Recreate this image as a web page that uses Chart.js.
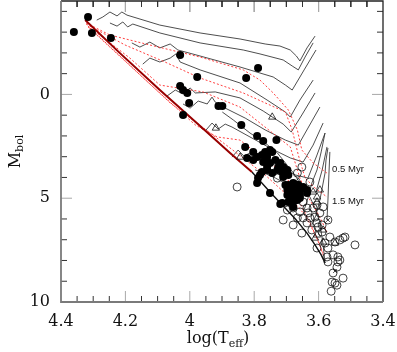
<!DOCTYPE html>
<html>
<head>
<meta charset="utf-8">
<style>
  html, body { margin: 0; padding: 0; background: #fff; overflow: hidden; }
  canvas { display: block; }
</style>
<script src="https://cdn.jsdelivr.net/npm/chart.js@4.4.1/dist/chart.umd.min.js"></script>
</head>
<body>
<canvas id="hrd" width="397" height="352"></canvas>
<script>
// axis limits and ticks
const xMin = 3.4, xMax = 4.4, yMin = -4.5, yMax = 10;
const xTickValues = [4.4, 4.2, 4.0, 3.8, 3.6, 3.4];
const yTickValues = [0, 5, 10];

// pre-main-sequence tracks, [log Teff, Mbol]
const track1 = [[3.611,-2.81],[3.636,-2.24],[3.658,-1.61],[3.669,-1.85],[3.688,-2.14],[3.720,-2.33],[3.766,-2.43],[3.844,-2.67],[3.968,-2.96],[4.093,-3.34],[4.195,-3.82],[4.211,-3.97],[4.226,-3.78],[4.248,-3.97],[4.270,-3.73],[4.289,-3.58]];
const track2 = [[3.617,-2.48],[3.642,-1.80],[3.663,-1.18],[3.682,-1.37],[3.710,-1.66],[3.782,-1.95],[3.834,-2.14],[3.968,-2.48],[4.093,-2.96],[4.177,-3.39],[4.193,-3.25],[4.208,-3.49],[4.226,-3.29],[4.248,-3.44]];
const track3 = [[3.608,-2.14],[3.645,-1.18],[3.682,-0.21],[3.703,-0.45],[3.741,-0.84],[3.844,-1.32],[3.968,-1.85],[4.037,-2.14],[4.061,-2.43],[4.093,-2.24],[4.124,-2.52],[4.155,-2.28],[4.180,-2.48]];
const track4 = [[3.617,-0.69],[3.658,0.27],[3.688,1.09],[3.703,0.85],[3.760,0.27],[3.844,-0.55],[3.968,-1.18],[4.030,-1.56],[4.043,-1.95],[4.061,-1.75],[4.093,-1.56],[4.124,-1.75],[4.146,-1.46]];
const track5 = [[3.611,-0.07],[3.652,0.99],[3.685,1.81],[3.710,1.43],[3.772,0.80],[3.844,0.17],[3.921,-0.12],[3.983,-0.07],[3.999,-0.31],[4.021,-0.02],[4.045,-0.21],[4.071,0.08]];
const track6 = [[3.596,0.61],[3.633,1.62],[3.663,2.44],[3.703,2.20],[3.766,1.71],[3.828,1.14],[3.890,0.66],[3.921,0.37],[3.931,0.13],[3.946,0.46],[3.974,0.32],[3.999,0.66],[4.021,0.46]];
const track7 = [[3.586,1.38],[3.617,2.44],[3.648,3.26],[3.688,3.06],[3.751,2.58],[3.813,2.05],[3.869,1.57],[3.890,1.43],[3.912,1.67],[3.931,1.38],[3.952,1.76],[3.968,1.57]];
const track8 = [[3.580,1.86],[3.605,2.92],[3.633,4.03],[3.672,3.88],[3.725,3.50],[3.776,3.06],[3.813,2.82],[3.832,2.97],[3.850,2.68],[3.869,3.02]];
const track9 = [[3.574,2.53],[3.589,3.64],[3.608,4.70],[3.642,4.70],[3.688,4.41],[3.734,4.03],[3.776,3.74],[3.797,3.64]];
const track10 = [[3.565,2.77],[3.568,3.88],[3.571,5.09],[3.574,6.05]];
const track11 = [[3.580,1.86],[3.592,2.77],[3.605,3.64],[3.621,4.27],[3.633,4.99],[3.645,5.57]];
const track12 = [[3.571,2.58],[3.577,3.16],[3.580,3.79],[3.596,5.09],[3.608,5.81],[3.621,6.29]];
const lowTrack = [[3.899,0.85],[3.865,1.23],[3.813,1.86],[3.766,2.34],[3.728,2.82],[3.678,3.79],[3.648,4.51],[3.627,4.94],[3.608,5.57],[3.596,6.19],[3.586,7.25],[3.580,8.12]];

// isochrones (red dotted)
const isoA = [[4.322,-3.44],[4.248,-2.86],[4.124,-2.38],[3.968,-1.80],[3.834,-1.18],[3.782,-0.69],[3.741,-0.07],[3.694,0.75],[3.666,1.71],[3.652,2.68],[3.617,3.30],[3.574,3.79]];
const isoB = [[4.322,-3.39],[4.201,-2.38],[4.077,-1.56],[3.968,-0.79],[3.834,-0.07],[3.766,0.41],[3.703,0.85],[3.682,1.71],[3.663,2.92],[3.642,4.03],[3.611,4.51],[3.574,4.94]];
const isoC = [[4.316,-3.29],[4.186,-1.75],[4.093,-0.45],[3.959,-0.12],[3.844,0.61],[3.782,1.38],[3.688,2.53],[3.658,4.03],[3.627,5.09],[3.596,5.91],[3.574,6.63]];
const isoD = [[4.316,-3.25],[4.124,-0.50],[3.983,1.47],[3.915,2.05],[3.844,2.20],[3.797,2.77],[3.703,3.88],[3.666,4.99],[3.627,6.15],[3.586,7.64]];
const isoE = [[4.310,-3.20],[4.061,0.41],[3.875,2.58],[3.766,3.88],[3.688,4.99],[3.642,5.81],[3.602,7.01],[3.586,7.73]];
const isoLabels = [['0.5 Myr', 3.558, 3.59], ['1.5 Myr', 3.558, 5.13]];

// ZAMS
const zamsHot = [[4.325,-3.58],[4.217,-1.99],[4.093,-0.21],[3.968,1.52],[3.875,2.82],[3.807,3.74]];
const zamsCool = [[3.807,3.74],[3.751,4.70],[3.713,5.33],[3.672,6.00],[3.636,6.68],[3.611,7.25],[3.592,7.73],[3.580,8.12]];

// stars
const starsFilled = [[4.360,-3.01],[4.316,-3.73],[4.304,-2.96],[4.245,-2.72],[4.030,-1.90],[3.977,-0.84],[3.825,-0.79],[3.788,-1.27],
  [4.030,-0.40],[4.021,-0.21],[4.008,-0.07],[4.002,0.41],[4.021,0.99],[3.911,0.56],[3.899,0.56],[3.840,1.47],[3.791,2.00],[3.772,2.24],[3.731,2.20],
  [3.828,2.53],[3.803,2.77],[3.791,3.02],[3.776,2.92],[3.760,3.02],[3.744,2.77],[3.734,3.16],[3.719,3.30],[3.710,3.50],[3.751,3.30],[3.772,3.26],
  [3.803,3.16],[3.822,3.06],[3.788,4.03],[3.782,3.88],[3.760,3.64],[3.728,3.64],[3.697,3.64],[3.694,3.88],[3.744,3.79],[3.760,3.50],[3.776,3.74],
  [3.766,2.77],[3.751,2.68],[3.725,3.50],[3.713,3.74],[3.710,3.98],[3.791,4.27],[3.751,4.75],[3.719,5.28],
  [3.703,4.36],[3.697,4.60],[3.682,4.70],[3.666,4.70],[3.658,4.60],[3.648,4.51],[3.682,4.46],[3.666,4.36],[3.672,4.85],[3.658,4.85],[3.636,4.75],
  [3.636,4.60],[3.688,4.99],[3.666,5.09],[3.658,4.99],[3.679,5.18],[3.697,4.85],[3.694,5.18],[3.679,5.42],[3.694,4.36],[3.679,4.27],[3.663,4.36],
  [3.648,4.46],[3.713,5.23],[3.682,5.09]];
const starsOpen = [[3.853,4.46],[3.728,4.03],[3.666,3.79],[3.652,3.50],[3.627,4.22],[3.648,5.18],[3.617,5.47],[3.633,5.71],[3.658,5.66],[3.679,5.47],
  [3.697,5.57],[3.666,5.95],[3.627,5.95],[3.589,6.29],[3.636,6.19],[3.679,6.29],[3.710,6.05],[3.605,6.19],[3.652,6.68],[3.589,6.63],[3.565,6.87],
  [3.534,7.01],[3.518,6.87],[3.487,7.25],[3.605,7.40],[3.571,7.40],[3.555,7.73],[3.540,7.83],[3.534,7.98],[3.574,7.83],[3.543,8.32],[3.586,5.42],
  [3.605,5.33],[3.596,5.71],[3.636,5.47],[3.611,5.91],[3.648,5.95],[3.621,6.53],[3.602,6.39],[3.571,6.05],[3.524,6.92],[3.549,7.11],[3.580,7.16],
  [3.555,8.60],[3.558,9.04],[3.524,8.85],[3.543,9.19],[3.561,9.48],[3.549,9.09],[3.540,8.07],[3.571,8.07]];
const starsTri = [[3.844,3.02],[3.744,1.09],[3.919,1.62],[3.663,4.22],[3.617,4.70],[3.605,4.94],[3.596,4.60],[3.605,5.18],[3.586,6.53],
  [3.611,6.92],[3.605,6.77],[3.586,7.11],[3.549,7.16]];
const starsCrossed = [[3.571,6.05],[3.549,8.51]];

const pts = a => a.map(([x, y]) => ({ x, y }));

const lineSet = (data, color, width, dash, order) => ({
  data: pts(data),
  showLine: true,
  borderColor: color,
  borderWidth: width,
  borderDash: dash,
  pointRadius: 0,
  tension: 0,
  fill: false,
  spanGaps: false,
  clip: false,
  order: order
});

const markSet = (data, style, radius, fill, width, order) => ({
  data: pts(data),
  showLine: false,
  pointStyle: style,
  pointRadius: radius,
  backgroundColor: fill,
  borderColor: '#111',
  borderWidth: width,
  order: order
});

// box and inward ticks as broken polylines (NaN = gap), lengths in px converted to data units
const pxX = (xMax - xMin) / 322, pxY = (yMax - yMin) / 301;
const tickSegments = major => {
  const out = [], gap = [NaN, NaN];
  const lenX = (major ? 11 : 6) * pxX, lenY = (major ? 11 : 6) * pxY;
  for (let i = 1; i < 20; i++) {
    if ((i % 4 === 0) !== major) continue;
    const v = xMin + i * 0.05;
    out.push([v, yMax], [v, yMax - lenY], gap, [v, yMin], [v, yMin + lenY], gap);
  }
  for (let v = -4; v < 10; v++) {
    if ((v % 5 === 0) !== major) continue;
    out.push([xMax, v], [xMax - lenX, v], gap, [xMin, v], [xMin + lenX, v], gap);
  }
  return out;
};
const boxLeftBottom = [[xMax, yMin], [xMax, yMax], [xMin, yMax]];
const boxTopRight = [[xMax, yMin], [xMin, yMin], [xMin, yMax]];

const tracks = [track1, track2, track3, track4, track5, track6, track7, track8, track9, track10, track11, track12, lowTrack];
const isochrones = [isoA, isoB, isoC, isoD, isoE];

const datasets = [
  lineSet(boxLeftBottom, '#7a7a7a', 1.8, [], -1),
  lineSet(boxTopRight, '#222', 1.3, [], -1),
  lineSet(tickSegments(false), '#333', 1, [], -1),
  lineSet(tickSegments(true), '#a8a8a8', 1, [], -1),
  markSet(starsFilled, 'circle', 4, '#000', 0, 0),
  markSet(starsOpen, 'circle', 4, 'rgba(0,0,0,0)', 0.8, 0),
  markSet(starsTri, 'triangle', 4.2, 'rgba(0,0,0,0)', 0.8, 0),
  markSet(starsCrossed, 'crossRot', 2.6, 'rgba(0,0,0,0)', 0.8, 0),
  lineSet(zamsHot, '#990000', 2, [], 1),
  lineSet(zamsCool, '#111', 1.4, [], 1),
  ...isochrones.map(d => lineSet(d, '#ff2a2a', 0.9, [2, 2], 2)),
  ...tracks.map(d => lineSet(d, '#3a3a3a', 0.9, [], 3))
];

// isochrone labels and axis titles
const axisText = {
  id: 'axisText',
  afterDraw(chart) {
    const { ctx, chartArea: a, scales: { x, y } } = chart;
    ctx.save();
    ctx.fillStyle = '#111';
    ctx.font = '9.5px "Liberation Sans", Arial, sans-serif';
    ctx.textBaseline = 'middle';
    ctx.textAlign = 'left';
    isoLabels.forEach(([t, lx, ly]) => {
      ctx.fillText(t, x.getPixelForValue(lx), y.getPixelForValue(ly));
    });

    const big = '16px "DejaVu Serif", serif';
    const small = '11px "DejaVu Serif", serif';
    ctx.textBaseline = 'alphabetic';

    // x title: log(T_eff)
    ctx.font = big;
    const w1 = ctx.measureText('log(T').width, w3 = ctx.measureText(')').width;
    ctx.font = small;
    const w2 = ctx.measureText('eff').width;
    const tx = 218 - (w1 + w2 + w3) / 2;
    ctx.font = big; ctx.fillText('log(T', tx, 343);
    ctx.font = small; ctx.fillText('eff', tx + w1, 347);
    ctx.font = big; ctx.fillText(')', tx + w1 + w2, 343);

    // y title: M_bol
    ctx.translate(20, (a.top + a.bottom) / 2);
    ctx.rotate(-Math.PI / 2);
    ctx.font = big;
    const m = ctx.measureText('M').width;
    ctx.font = small;
    const b = ctx.measureText('bol').width;
    const s = -(m + b) / 2;
    ctx.font = big; ctx.fillText('M', s, 0);
    ctx.font = small; ctx.fillText('bol', s + m, 3);
    ctx.restore();
  }
};

const noPad = s => { s.paddingTop = 0; s.paddingBottom = 0; s.paddingLeft = 0; s.paddingRight = 0; };

new Chart(document.getElementById('hrd'), {
  type: 'scatter',
  data: { datasets },
  options: {
    responsive: false,
    animation: false,
    events: [],
    layout: { autoPadding: false, padding: { left: 0, right: 14, top: 1, bottom: 0 } },
    plugins: { legend: { display: false }, tooltip: { enabled: false } },
    scales: {
      x: {
        type: 'linear', min: xMin, max: xMax, reverse: true,
        afterBuildTicks: s => { s.ticks = xTickValues.map(v => ({ value: v })); },
        afterFit: s => { s.height = 50; noPad(s); },
        grid: { display: false, drawTicks: false },
        border: { display: false },
        ticks: {
          padding: 10, autoSkip: false, maxRotation: 0, color: '#111',
          font: { family: '"DejaVu Serif", serif', size: 16 },
          callback: v => String(+Number(v).toFixed(1))
        }
      },
      y: {
        type: 'linear', min: yMin, max: yMax, reverse: true,
        afterBuildTicks: s => { s.ticks = yTickValues.map(v => ({ value: v })); },
        afterFit: s => { s.width = 61; noPad(s); },
        grid: { display: false, drawTicks: false },
        border: { display: false },
        ticks: {
          padding: 11, autoSkip: false, color: '#111',
          font: { family: '"DejaVu Serif", serif', size: 16 },
          callback: v => String(v)
        }
      }
    }
  },
  plugins: [axisText]
});
</script>
</body>
</html>
